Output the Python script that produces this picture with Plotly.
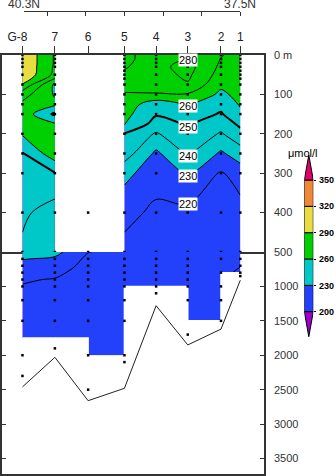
import numpy as np
import plotly.graph_objects as go

# ---------------- section stations ----------------
stations = ["G-8", "7", "6", "5", "4", "3", "2", "1"]
station_lat = [40.32, 39.90, 39.47, 39.00, 38.59, 38.18, 37.75, 37.50]
bottom_depth = [2460, 2030, 2660, 2480, 1280, 1850, 1620, 910]

lat_labels = ["40.3N", "37.5N"]
lat_label_pos = [40.3, 37.5]
lat_ticks = [40.0, 39.5, 39.0, 38.5, 38.0, 37.5]

# ---------------- dissolved oxygen, 0-500 m (umol/l) ----------------
upper_depth = [0, 10, 20, 30, 50, 75, 100, 125, 150, 175, 200, 250, 300, 400, 500]
g8_upper = [299, 299, 299, 299, 298.5, 289.5, 274, 268, 266, 264, 261, 249.5, 246, 242, 238]
st7_upper = [279, 279, 279, 278.5, 277.5, 258, 259, 262, 248, 261, 265, 266, 249.5, 235, 233]
st5_upper = [281.5, 281.5, 281, 280.5, 279, 274, 269, 266, 263, 261, 249.5, 245, 233, 223, 217]
st4_upper = [277, 277, 277, 277, 276, 273, 269.5, 253.7, 251, 246, 239, 228, 224, 218, 214]
st3_upper = [277, 279, 282, 283.5, 282, 279, 269, 261, 256, 251, 248, 241.5, 231, 217, 212]
st2_upper = [270.5, 269.8, 269, 268, 266, 262, 258, 253, 249, 244, 239, 228.5, 219, 214, 211]
st1_upper = [267, 267, 266, 266, 265, 264, 263, 261, 258, 252, 247, 235, 225, 216, 212]

# ---------------- dissolved oxygen, 500-2000 m ----------------
lower_depth = [500, 600, 700, 800, 900, 1000, 1250, 1500, 1750, 2000]
g8_lower = [238, 230.5, 226, 222, 220.8, 219.6, 218, 216, 215, 214]
st7_lower = [233, 228.5, 225, 222, 219.5, 218, 216, 215, 214, 213]
st6_lower = [220.3, 218, 217, 216, 215.5, 215, 214, 213, 212.5, 212]
st5_lower = [217, 216, 215, 214.5, 214, 213.5, 213, 212.5, 212, 211.5]
st4_lower = [214, 213.5, 213, 213, 212.5, 212, 211.5, 211, 211, 211]
st3_lower = [212, 212, 211.5, 211.5, 211, 211, 211, 210.5, 210.5, 210.5]
st2_lower = [211, 211, 211, 210.8, 210.6, 210.5, 210.4, 210.3, 210.3, 210.3]
st1_lower = [212, 211, 210.1, 209.5, 209, 208.5, 208, 208, 208, 208]

# deepest gridded depth between neighbouring stations
interval_floor = [1750, 1750, 2000, 1000, 1000, 1500, 800]

# sampling depths per station
samples_g8 = [0, 10, 20, 30, 50, 75, 100, 125, 150, 200, 250, 300, 400, 500, 600, 700, 800, 900, 1000, 1200, 1500, 2000, 2300]
samples_7 = [0, 10, 20, 30, 50, 75, 100, 125, 150, 200, 250, 300, 400, 500, 600, 700, 800, 900, 1000, 1200, 1500, 1900]
samples_6 = [400, 500, 600, 700, 800, 900, 1000, 1200, 1500, 2000, 2500]
samples_5 = [0, 10, 20, 30, 40, 50, 60, 75, 100, 125, 150, 200, 250, 300, 400, 500, 600, 700, 800, 900, 1000, 1200, 1500, 2000, 2100]
samples_4 = [0, 10, 20, 30, 50, 75, 100, 125, 150, 200, 250, 300, 400, 500, 600, 700, 800, 900, 1000, 1100]
samples_3 = [0, 10, 20, 30, 50, 75, 100, 125, 150, 200, 250, 300, 400, 500, 600, 700, 800, 900, 1000, 1200, 1700]
samples_2 = [0, 10, 20, 30, 50, 75, 100, 125, 150, 200, 250, 300, 400, 500, 600, 800, 1000, 1200, 1500]
samples_1 = [0, 10, 20, 30, 40, 50, 60, 75, 100, 125, 150, 200, 250, 300, 400, 500, 600, 700, 800, 850]

# colour classes and contour lines
fill_levels = [200, 230, 260, 290, 320, 350]
fill_colors = ["#9a00c8", "#2340fa", "#00c8c8", "#00d000", "#e8dc40", "#f08838", "#e0006e"]
line_step = 10
bold_level = 250
label_station = "3"
label_levels = [280, 260, 250, 240, 230, 220]

upper_ticks = [0, 100, 200, 300, 400, 500]
upper_ticktext = ["0 m", "100", "200", "300", "400", "500"]
lower_ticks = [1000, 1500, 2000, 2500, 3000, 3500]

# ---------------- page geometry (pixels) ----------------
W, H = 336, 476
FRAME_L, FRAME_R = 2, 264
TOP, MID, BOT = 55, 252, 474
LAT_PX = (24, 240.3)
LAT_LINE_Y = 11
DEPTH_BOTTOM = 3725


def fx(px):
    return px / W


def fy(py):
    return 1 - py / H


scale = (LAT_PX[1] - LAT_PX[0]) / (lat_label_pos[0] - lat_label_pos[1])
x_range = [lat_label_pos[0] + (LAT_PX[0] - FRAME_L) / scale,
           lat_label_pos[1] - (FRAME_R - LAT_PX[1]) / scale]

# stepped colourscale: plotly samples the band midpoints evenly over [0, 1]
start, end, size = fill_levels[0], fill_levels[-1], fill_levels[1] - fill_levels[0]
n = len(fill_colors)
colorscale = []
for i, c in enumerate(fill_colors):
    a = max(0.0, (i - 0.5) / (n - 1))
    b = min(1.0, (i + 0.5) / (n - 1))
    colorscale += [[a, c], [b, c]]

fig = go.Figure()


def add_field(x, y, z, xa, ya):
    z = np.column_stack(z)
    fig.add_trace(go.Contour(
        x=x, y=y, z=z, xaxis=xa, yaxis=ya, showscale=False, hoverinfo="skip",
        colorscale=colorscale,
        contours=dict(start=start, end=end, size=size, coloring="fill", showlines=False),
        line=dict(width=0, smoothing=1)))


def add_lines(x, y, z, xa, ya):
    z = np.column_stack(z)
    fig.add_trace(go.Contour(
        x=x, y=y, z=z, xaxis=xa, yaxis=ya, showscale=False, hoverinfo="skip",
        contours=dict(start=200, end=350, size=line_step, coloring="none"),
        line=dict(color="black", width=1, smoothing=1)))
    fig.add_trace(go.Contour(
        x=x, y=y, z=z, xaxis=xa, yaxis=ya, showscale=False, hoverinfo="skip",
        contours=dict(start=bold_level, end=bold_level, size=50, coloring="none"),
        line=dict(color="black", width=2, smoothing=1)))


west_x = station_lat[0:2]
west_z = [g8_upper, st7_upper]
east_x = station_lat[3:8]
east_z = [st5_upper, st4_upper, st3_upper, st2_upper, st1_upper]
deep_z = [g8_lower, st7_lower, st6_lower, st5_lower, st4_lower, st3_lower, st2_lower, st1_lower]

add_field(west_x, upper_depth, west_z, "x", "y")
add_field(east_x, upper_depth, east_z, "x", "y")
add_field(station_lat, lower_depth, deep_z, "x2", "y2")

# blank out the deep cells without data
for i, floor in enumerate(interval_floor):
    if floor < lower_depth[-1]:
        xa, xb = station_lat[i], station_lat[i + 1]
        fig.add_trace(go.Scatter(
            x=[xa, xb, xb, xa, xa], y=[floor, floor, lower_depth[-1] + 5, lower_depth[-1] + 5, floor],
            xaxis="x2", yaxis="y2", mode="lines", fill="toself", fillcolor="white",
            line=dict(color="white", width=1.5), hoverinfo="skip", showlegend=False))

add_lines(west_x, upper_depth, west_z, "x", "y")
add_lines(east_x, upper_depth, east_z, "x", "y")
add_lines(station_lat, lower_depth, deep_z, "x2", "y2")

# sea bottom
fig.add_trace(go.Scatter(x=station_lat, y=bottom_depth, xaxis="x2", yaxis="y2", mode="lines",
                         line=dict(color="#222", width=1), hoverinfo="skip", showlegend=False))

# sampling points
all_samples = [samples_g8, samples_7, samples_6, samples_5, samples_4, samples_3, samples_2, samples_1]
ux, uy, lx, ly = [], [], [], []
for lat, deps in zip(station_lat, all_samples):
    for d in deps:
        if d <= 500:
            ux.append(lat); uy.append(d)
        else:
            lx.append(lat); ly.append(d)
dot = dict(color="black", size=2.5, symbol="square")
fig.add_trace(go.Scatter(x=ux, y=uy, xaxis="x", yaxis="y", mode="markers", marker=dot,
                         hoverinfo="skip", showlegend=False))
fig.add_trace(go.Scatter(x=lx, y=ly, xaxis="x2", yaxis="y2", mode="markers", marker=dot,
                         hoverinfo="skip", showlegend=False))

# contour labels along one station
ls = stations.index(label_station)
prof = dict(zip(stations[3:], east_z))[label_station]
annotations = []
for lev in label_levels:
    for k in range(len(prof) - 1):
        a, b = prof[k] - lev, prof[k + 1] - lev
        if a == 0 or a * b < 0:
            d = upper_depth[k] + (upper_depth[k + 1] - upper_depth[k]) * a / (a - b)
            annotations.append(dict(x=station_lat[ls], y=d, xref="x", yref="y", text=str(lev),
                                    showarrow=False, bgcolor="white", borderpad=0,
                                    font=dict(size=11, color="black", family="Liberation Sans")))
            break

# latitude scale labels
for lab, pos in zip(lat_labels, lat_label_pos):
    annotations.append(dict(x=pos, y=fy(4.5), xref="x3", yref="paper", text=lab, showarrow=False,
                            yanchor="middle", font=dict(size=12, color="#333", family="Liberation Sans")))

# colour key
cb_px200, cb_px350 = 311.7, 180.0
upp = (fill_levels[-1] - fill_levels[0]) / (cb_px200 - cb_px350)
cb_top, cb_bot = 154, 339
cb_range = [fill_levels[0] - (cb_bot - cb_px200) * upp, fill_levels[-1] + (cb_px350 - cb_top) * upp]
ext = 0.95 * size
fig.add_trace(go.Bar(x=[0] * (len(fill_levels) - 1), y=np.diff(fill_levels), base=fill_levels[:-1],
                     width=1, xaxis="x4", yaxis="y4",
                     marker=dict(color=fill_colors[1:-1], line=dict(color="black", width=1)),
                     hoverinfo="skip", showlegend=False))
for base, tip, col in [(fill_levels[-1], fill_levels[-1] + ext, fill_colors[-1]),
                       (fill_levels[0], fill_levels[0] - ext, fill_colors[0])]:
    fig.add_trace(go.Scatter(x=[-0.5, 0.5, 0, -0.5], y=[base, base, tip, base], xaxis="x4", yaxis="y4",
                             mode="lines", fill="toself", fillcolor=col, line=dict(color="black", width=1),
                             hoverinfo="skip", showlegend=False))
annotations.append(dict(x=fx(320), y=fy(145), xref="paper", yref="paper", text="μmol/l",
                        showarrow=False, font=dict(size=11, color="black", family="Liberation Sans")))

# invisible anchor for the latitude scale
fig.add_trace(go.Scatter(x=lat_label_pos, y=[0, 0], xaxis="x3", yaxis="y3", mode="markers",
                         marker=dict(opacity=0), hoverinfo="skip", showlegend=False))

font = dict(family="Liberation Sans", size=11, color="#333")
frame = dict(showline=True, linecolor="#333", linewidth=1.5, showgrid=False, zeroline=False)

fig.update_layout(
    width=W, height=H, margin=dict(l=0, r=0, t=0, b=0), template="none",
    paper_bgcolor="white", plot_bgcolor="white", showlegend=False, hovermode=False,
    barmode="overlay", font=font, annotations=annotations,
    xaxis=dict(domain=[fx(FRAME_L), fx(FRAME_R)], range=x_range, anchor="y", side="top",
               tickvals=station_lat, ticktext=["G-8\u00a0\u00a0\u00a0"] + stations[1:], ticks="outside",
               ticklen=7, tickcolor="#333", mirror=True, tickfont=dict(size=12, color="#222"), **frame),
    yaxis=dict(domain=[fy(MID), fy(TOP)], range=[500, 0], anchor="x", side="right",
               tickvals=upper_ticks, ticktext=upper_ticktext, ticks="inside", ticklen=4,
               tickcolor="#333", mirror="ticks", ticklabelstandoff=6, **frame),
    xaxis2=dict(domain=[fx(FRAME_L), fx(FRAME_R)], range=x_range, anchor="y2",
                showticklabels=False, ticks="", mirror=False, **frame),
    yaxis2=dict(domain=[fy(BOT), fy(MID)], range=[DEPTH_BOTTOM, 500], anchor="x2", side="right",
                tickvals=lower_ticks, ticks="inside", ticklen=4, tickcolor="#333", mirror="ticks",
                ticklabelstandoff=6, **frame),
    xaxis3=dict(domain=[fx(LAT_PX[0]), fx(LAT_PX[1])], range=lat_label_pos, anchor="y3",
                side="bottom", tickvals=lat_ticks, ticks="outside", ticklen=4, tickcolor="#333",
                showticklabels=False, showline=True, linecolor="#333", linewidth=1,
                showgrid=False, zeroline=False),
    yaxis3=dict(domain=[fy(LAT_LINE_Y), fy(0)], range=[0, 1], anchor="x3", visible=False),
    xaxis4=dict(domain=[fx(304.3), fx(313.3)], range=[-0.5, 0.5], anchor="y4", visible=False),
    yaxis4=dict(domain=[fy(cb_bot), fy(cb_top)], range=cb_range, anchor="x4", side="right",
                tickvals=fill_levels[:], ticks="outside", ticklen=2, tickcolor="black",
                showline=False, showgrid=False, zeroline=False, ticklabelstandoff=1,
                tickfont=dict(size=9, color="black", family="Liberation Sans", weight="bold")),
)

fig.write_html("out.html")
